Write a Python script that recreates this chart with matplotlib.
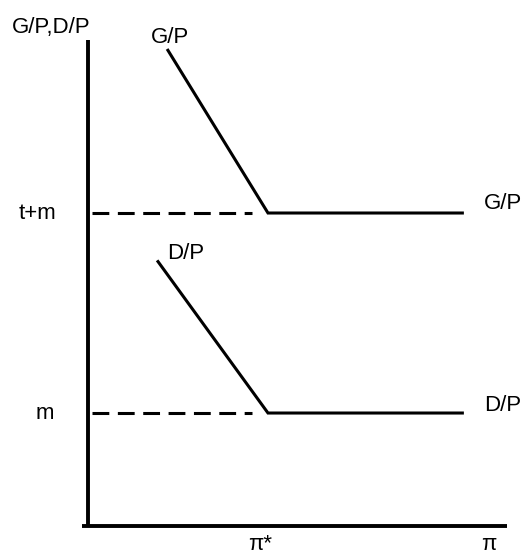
import matplotlib
matplotlib.use("Agg")
import matplotlib.pyplot as plt

# conceptual data (x: inflation, y: ratios)
pi_star = 1.0
pi_end = 2.08
x_axis_end = 2.33
x_axis_start = -0.035
y_axis_top = 4.30
level_tm = 2.77   # t+m
level_m = 1.0     # m
gp_start = (0.444, 4.21)
dp_start = (0.389, 2.34)

gp_x = [gp_start[0], pi_star, pi_end]
gp_y = [gp_start[1], level_tm, level_tm]
dp_x = [dp_start[0], pi_star, pi_end]
dp_y = [dp_start[1], level_m, level_m]

fig = plt.figure(figsize=(5.23, 5.58), dpi=100)
ax = fig.add_axes([0, 0, 1, 1])
ax.set_xlim(-0.489, 2.417)
ax.set_ylim(-0.283, 4.655)
ax.axis("off")

font = dict(family=["Liberation Sans", "DejaVu Sans"], fontsize=16, color="black")

# axes
ax.plot([0, 0], [-0.01, y_axis_top], color="black", lw=2.8, solid_capstyle="butt")
ax.plot([x_axis_start, x_axis_end], [0, 0], color="black", lw=2.8, solid_capstyle="butt")

# curves
ax.plot(gp_x, gp_y, color="black", lw=2.2, solid_joinstyle="miter")
ax.plot(dp_x, dp_y, color="black", lw=2.2, solid_joinstyle="miter")

# dashed levels
for lvl in (level_tm, level_m):
    ax.plot([0.02, pi_star - 0.09], [lvl, lvl], color="black", lw=2.2,
            dashes=(5.5, 2.8))

# labels
ax.text(-0.206, 4.41, "G/P,D/P", ha="center", va="center", **font)
ax.text(0.456, 4.32, "G/P", ha="center", va="center", **font)
ax.text(0.544, 2.41, "D/P", ha="center", va="center", **font)
ax.text(2.306, 2.85, "G/P", ha="center", va="center", **font)
ax.text(2.306, 1.07, "D/P", ha="center", va="center", **font)
ax.text(-0.278, level_tm, "t+m", ha="center", va="center", **font)
ax.text(-0.239, level_m, "m", ha="center", va="center", **font)
ax.text(0.956, -0.215, "π*", ha="center", va="baseline", **font)
ax.text(2.228, -0.215, "π", ha="center", va="baseline", **font)

fig.savefig("out.png", dpi=100, facecolor="white")
